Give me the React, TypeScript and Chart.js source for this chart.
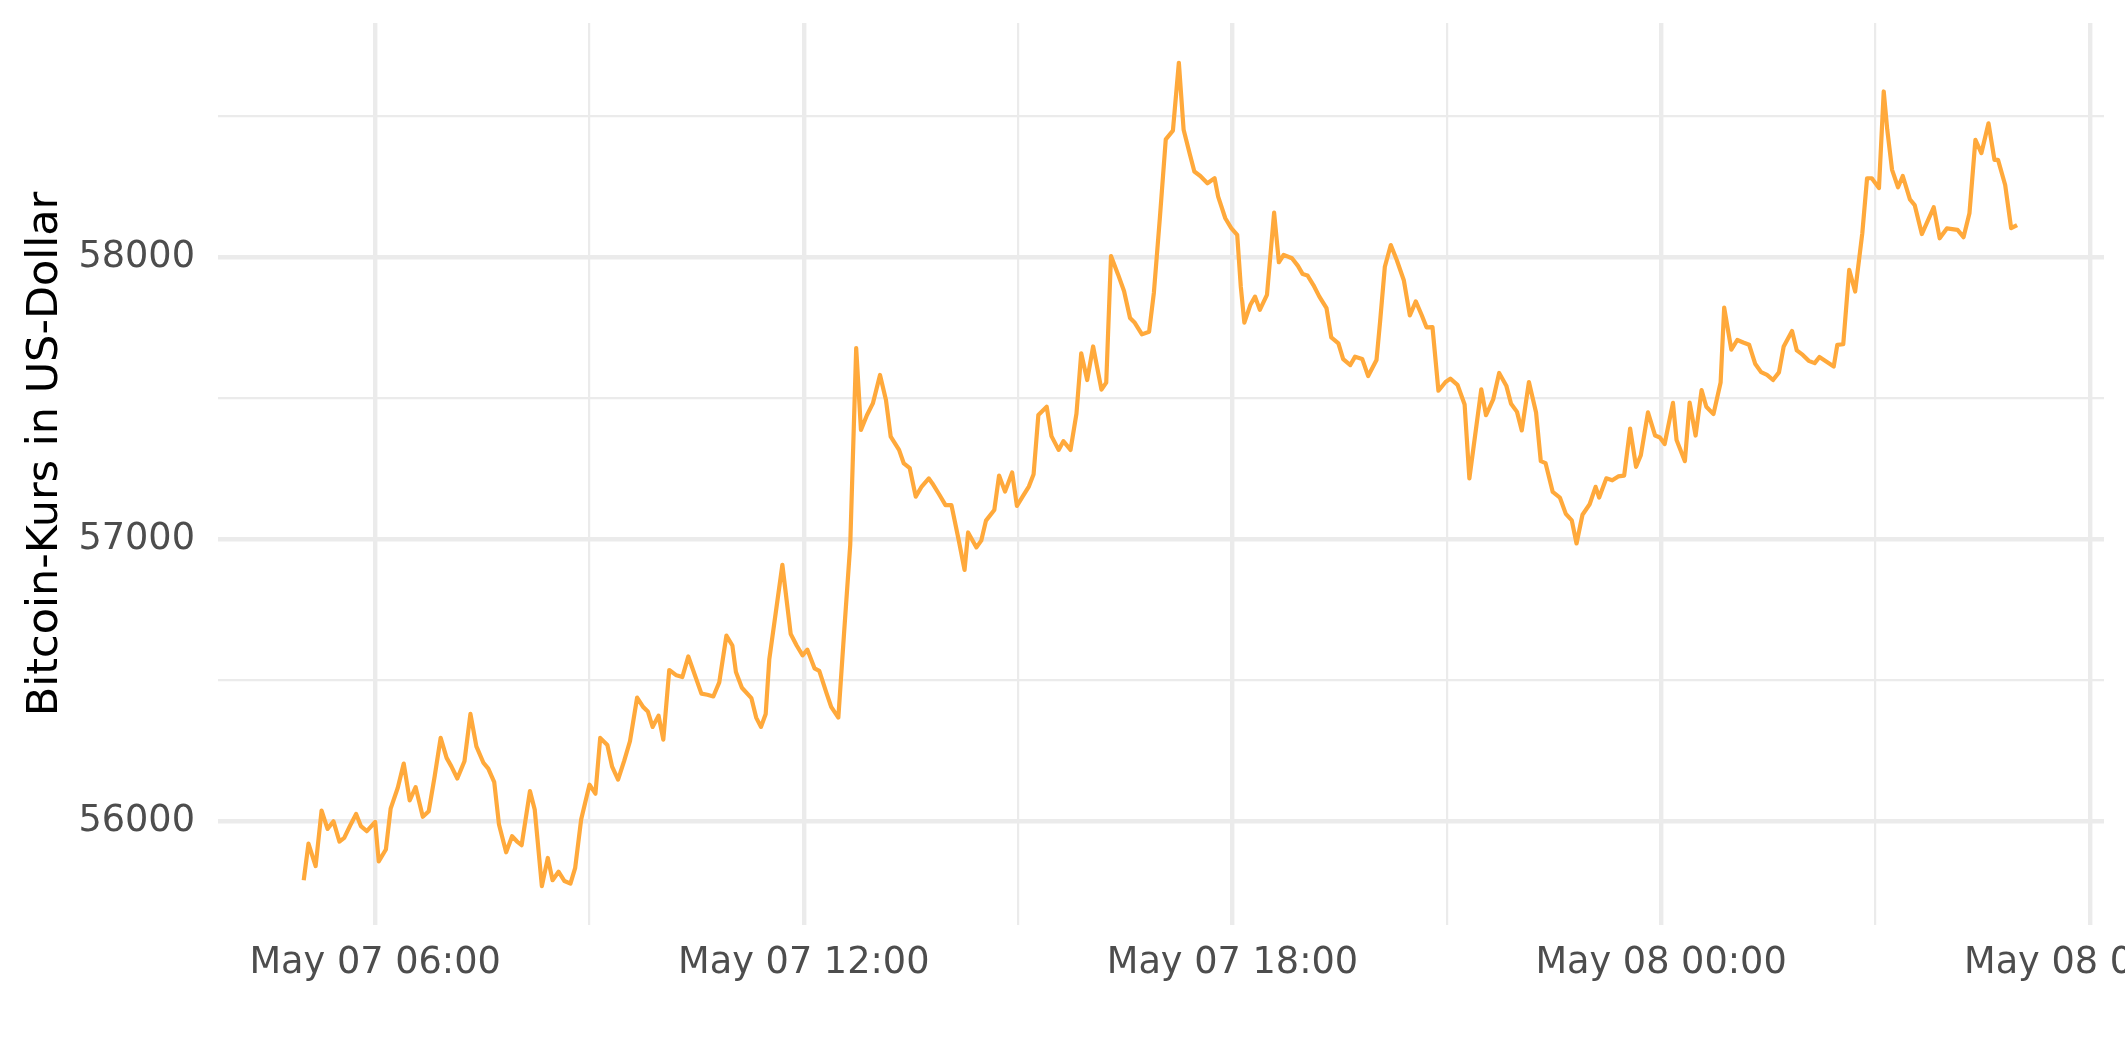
import React, { useEffect, useRef } from "react";
import { Chart, registerables } from "chart.js";

Chart.register(...registerables);

// Time stamps (month-day hour:minute, year 2021) and Bitcoin price in USD
const times: string[] = [
  "05-07 05:00","05-07 05:04","05-07 05:10","05-07 05:15","05-07 05:20","05-07 05:25","05-07 05:30","05-07 05:34","05-07 05:39","05-07 05:44",
  "05-07 05:48","05-07 05:53","05-07 06:00","05-07 06:03","05-07 06:09","05-07 06:13","05-07 06:19","05-07 06:24","05-07 06:29","05-07 06:34",
  "05-07 06:40","05-07 06:45","05-07 06:50","05-07 06:55","05-07 07:00","05-07 07:04","05-07 07:09","05-07 07:15","05-07 07:20","05-07 07:25",
  "05-07 07:31","05-07 07:35","05-07 07:40","05-07 07:44","05-07 07:50","05-07 07:55","05-07 07:59","05-07 08:03","05-07 08:10","05-07 08:14",
  "05-07 08:20","05-07 08:25","05-07 08:29","05-07 08:34","05-07 08:39","05-07 08:44","05-07 08:48","05-07 08:53","05-07 09:00","05-07 09:05",
  "05-07 09:09","05-07 09:15","05-07 09:19","05-07 09:24","05-07 09:29","05-07 09:34","05-07 09:40","05-07 09:45","05-07 09:49","05-07 09:53",
  "05-07 09:58","05-07 10:02","05-07 10:07","05-07 10:13","05-07 10:18","05-07 10:23","05-07 10:34","05-07 10:39","05-07 10:44","05-07 10:49",
  "05-07 10:55","05-07 11:00","05-07 11:03","05-07 11:08","05-07 11:16","05-07 11:20","05-07 11:24","05-07 11:28","05-07 11:31","05-07 11:42",
  "05-07 11:49","05-07 11:54","05-07 11:59","05-07 12:03","05-07 12:09","05-07 12:13","05-07 12:19","05-07 12:23","05-07 12:29","05-07 12:34",
  "05-07 12:39","05-07 12:44","05-07 12:48","05-07 12:53","05-07 12:58","05-07 13:04","05-07 13:09","05-07 13:13","05-07 13:20","05-07 13:24",
  "05-07 13:29","05-07 13:34","05-07 13:39","05-07 13:45","05-07 13:48","05-07 13:54","05-07 13:59","05-07 14:04","05-07 14:10","05-07 14:15",
  "05-07 14:18","05-07 14:25","05-07 14:29","05-07 14:33","05-07 14:40","05-07 14:44","05-07 14:49","05-07 14:55","05-07 14:59","05-07 15:04",
  "05-07 15:09","05-07 15:13","05-07 15:17","05-07 15:24","05-07 15:28","05-07 15:34","05-07 15:38","05-07 15:44","05-07 15:49","05-07 15:53",
  "05-07 15:58","05-07 16:03","05-07 16:10","05-07 16:14","05-07 16:18","05-07 16:24","05-07 16:29","05-07 16:34","05-07 16:38","05-07 16:44",
  "05-07 16:50","05-07 16:54","05-07 16:59","05-07 17:04","05-07 17:10","05-07 17:15","05-07 17:19","05-07 17:24","05-07 17:28","05-07 17:33",
  "05-07 17:39","05-07 17:45","05-07 17:48","05-07 17:54","05-07 17:59","05-07 18:04","05-07 18:07","05-07 18:10","05-07 18:15","05-07 18:19",
  "05-07 18:23","05-07 18:29","05-07 18:35","05-07 18:39","05-07 18:43","05-07 18:50","05-07 18:55","05-07 18:59","05-07 19:03","05-07 19:08",
  "05-07 19:13","05-07 19:19","05-07 19:23","05-07 19:29","05-07 19:33","05-07 19:39","05-07 19:43","05-07 19:49","05-07 19:54","05-07 20:01",
  "05-07 20:04","05-07 20:08","05-07 20:13","05-07 20:18","05-07 20:24","05-07 20:29","05-07 20:34","05-07 20:39","05-07 20:43","05-07 20:48",
  "05-07 20:53","05-07 20:59","05-07 21:03","05-07 21:09","05-07 21:15","05-07 21:19","05-07 21:29","05-07 21:33","05-07 21:39","05-07 21:44",
  "05-07 21:50","05-07 21:54","05-07 21:59","05-07 22:03","05-07 22:09","05-07 22:15","05-07 22:19","05-07 22:23","05-07 22:29","05-07 22:35",
  "05-07 22:40","05-07 22:45","05-07 22:49","05-07 22:54","05-07 23:00","05-07 23:05","05-07 23:08","05-07 23:14","05-07 23:19","05-07 23:24",
  "05-07 23:29","05-07 23:34","05-07 23:39","05-07 23:43","05-07 23:49","05-07 23:55","05-07 23:59","05-08 00:03","05-08 00:10","05-08 00:13",
  "05-08 00:20","05-08 00:24","05-08 00:29","05-08 00:34","05-08 00:38","05-08 00:44","05-08 00:50","05-08 00:53","05-08 00:59","05-08 01:04",
  "05-08 01:09","05-08 01:14","05-08 01:19","05-08 01:24","05-08 01:29","05-08 01:34","05-08 01:39","05-08 01:43","05-08 01:50","05-08 01:54",
  "05-08 01:59","05-08 02:04","05-08 02:09","05-08 02:13","05-08 02:19","05-08 02:25","05-08 02:28","05-08 02:33","05-08 02:38","05-08 02:43",
  "05-08 02:49","05-08 02:53","05-08 02:57","05-08 03:03","05-08 03:07","05-08 03:10","05-08 03:14","05-08 03:19","05-08 03:23","05-08 03:29",
  "05-08 03:33","05-08 03:39","05-08 03:49","05-08 03:54","05-08 04:00","05-08 04:09","05-08 04:14","05-08 04:19","05-08 04:24","05-08 04:29",
  "05-08 04:35","05-08 04:40","05-08 04:43","05-08 04:49","05-08 04:54","05-08 04:59"
];

const prices: number[] = [
  55790,55920,55840,56037,55972,55999,55927,55940,55984,56025,
  55982,55964,55997,55857,55899,56044,56118,56204,56073,56120,
  56015,56035,56159,56295,56224,56194,56151,56212,56380,56265,
  56206,56186,56138,55988,55889,55946,55928,55914,56106,56041,
  55769,55869,55790,55820,55787,55778,55834,56005,56129,56097,
  56295,56270,56193,56147,56212,56283,56438,56405,56389,56334,
  56374,56289,56536,56517,56511,56584,56452,56448,56442,56492,
  56658,56623,56529,56473,56436,56367,56334,56380,56573,56909,
  56664,56623,56588,56608,56542,56533,56455,56405,56367,56678,
  56980,57678,57388,57440,57482,57583,57494,57364,57317,57269,
  57252,57151,57187,57216,57198,57157,57121,57121,56999,56891,
  57024,56971,56995,57066,57104,57226,57169,57237,57118,57153,
  57187,57231,57441,57470,57366,57317,57348,57317,57446,57660,
  57565,57684,57531,57556,58005,57939,57880,57785,57768,57727,
  57736,57874,58138,58419,58450,58691,58453,58370,58305,58289,
  58263,58281,58216,58139,58104,58080,57897,57769,57831,57861,
  57814,57867,58159,57983,58009,57997,57970,57941,57936,57902,
  57861,57820,57716,57695,57639,57618,57648,57640,57579,57636,
  57772,57967,58044,57991,57918,57794,57844,57795,57752,57753,
  57527,57558,57570,57548,57478,57216,57532,57440,57496,57590,
  57545,57481,57452,57386,57558,57450,57277,57270,57168,57148,
  57090,57067,56985,57087,57124,57186,57148,57216,57209,57223,
  57226,57393,57257,57298,57450,57368,57361,57338,57484,57352,
  57277,57485,57368,57529,57470,57444,57556,57822,57673,57707,
  57698,57690,57623,57593,57583,57565,57592,57684,57739,57670,
  57654,57633,57625,57647,57630,57613,57690,57692,57956,57879,
  58086,58281,58281,58246,58589,58452,58311,58249,58289,58206,
  58186,58083,58178,58068,58103,58098,58072,58157,58417,58370,
  58476,58346,58346,58257,58104,58115
];

// Axis ticks (hours since May 07 00:00 for x)
const xMajorHours: number[] = [6, 12, 18, 24, 30];
const xMinorHours: number[] = [9, 15, 21, 27];
const xTickLabels: string[] = ["May 07 06:00", "May 07 12:00", "May 07 18:00", "May 08 00:00", "May 08 06:00"];
const yMajorTicks: number[] = [56000, 57000, 58000];
const yMinorTicks: number[] = [56500, 57500, 58500];
const yTitle = "Bitcoin-Kurs in US-Dollar";

const FONT = "'DejaVu Sans', sans-serif";

function toHours(s: string): number {
  const day = parseInt(s.slice(3, 5), 10);
  const h = parseInt(s.slice(6, 8), 10);
  const m = parseInt(s.slice(9, 11), 10);
  return (day - 7) * 24 + h + m / 60;
}

// Draws the y axis title (rotated text) at the position used by the reference
const yTitlePlugin = {
  id: "yTitlePlugin",
  afterDraw(chart: any) {
    const { ctx, chartArea } = chart;
    ctx.save();
    ctx.font = `43px ${FONT}`;
    ctx.fillStyle = "#000000";
    ctx.textAlign = "center";
    ctx.textBaseline = "alphabetic";
    ctx.translate(57, (chartArea.top + chartArea.bottom) / 2 - 20);
    ctx.rotate(-Math.PI / 2);
    ctx.fillText(yTitle, 0, 0);
    ctx.restore();
  },
};

export default function App() {
  const ref = useRef<HTMLCanvasElement | null>(null);

  useEffect(() => {
    document.body.style.margin = "0";
    const canvas = ref.current;
    if (!canvas) return;
    const points = times.map((t, i) => ({ x: toHours(t), y: prices[i] }));
    const chart = new Chart(canvas, {
      type: "line",
      data: {
        datasets: [
          {
            data: points,
            borderColor: "#FFA93B",
            borderWidth: 4.2,
            borderJoinStyle: "round",
            pointRadius: 0,
            tension: 0,
            fill: false,
          },
        ],
      },
      plugins: [yTitlePlugin],
      options: {
        animation: false,
        responsive: false,
        devicePixelRatio: 1,
        layout: { padding: { left: 0, right: 21, top: 23, bottom: 0 } },
        plugins: { legend: { display: false }, tooltip: { enabled: false } },
        scales: {
          x: {
            type: "linear",
            min: 3.8,
            max: 30.2,
            offset: false,
            afterBuildTicks: (s: any) => {
              s.ticks = [...xMajorHours, ...xMinorHours].sort((a, b) => a - b).map((v) => ({ value: v }));
            },
            afterFit: (s: any) => {
              s.height = 137;
              s.paddingLeft = 0;
              s.paddingRight = 0;
            },
            ticks: {
              autoSkip: false,
              maxRotation: 0,
              minRotation: 0,
              padding: 16,
              color: "#4D4D4D",
              font: { family: FONT, size: 36.67 },
              callback: (v: any) => {
                const i = xMajorHours.indexOf(Number(v));
                return i >= 0 ? xTickLabels[i] : "";
              },
            },
            grid: {
              color: "#EBEBEB",
              lineWidth: (ctx: any) => (ctx.tick && xMajorHours.includes(ctx.tick.value) ? 4.4 : 2.2),
              drawTicks: false,
            },
            border: { display: false },
          },
          y: {
            type: "linear",
            min: 55631,
            max: 58832,
            afterBuildTicks: (s: any) => {
              s.ticks = [...yMajorTicks, ...yMinorTicks].sort((a, b) => a - b).map((v) => ({ value: v }));
            },
            afterFit: (s: any) => {
              s.width = 218;
              s.paddingTop = 0;
              s.paddingBottom = 0;
            },
            ticks: {
              autoSkip: false,
              padding: 23,
              color: "#4D4D4D",
              font: { family: FONT, size: 36.67 },
              callback: (v: any) => (yMajorTicks.includes(Number(v)) ? String(v) : ""),
            },
            grid: {
              color: "#EBEBEB",
              lineWidth: (ctx: any) => (ctx.tick && yMajorTicks.includes(ctx.tick.value) ? 4.4 : 2.2),
              drawTicks: false,
            },
            border: { display: false },
            title: { display: false },
          },
        },
      },
    });
    return () => chart.destroy();
  }, []);

  return (
    <div style={{ width: 2125, height: 1062, background: "#fff" }}>
      <canvas ref={ref} width={2125} height={1062} style={{ display: "block", width: 2125, height: 1062 }} />
    </div>
  );
}
